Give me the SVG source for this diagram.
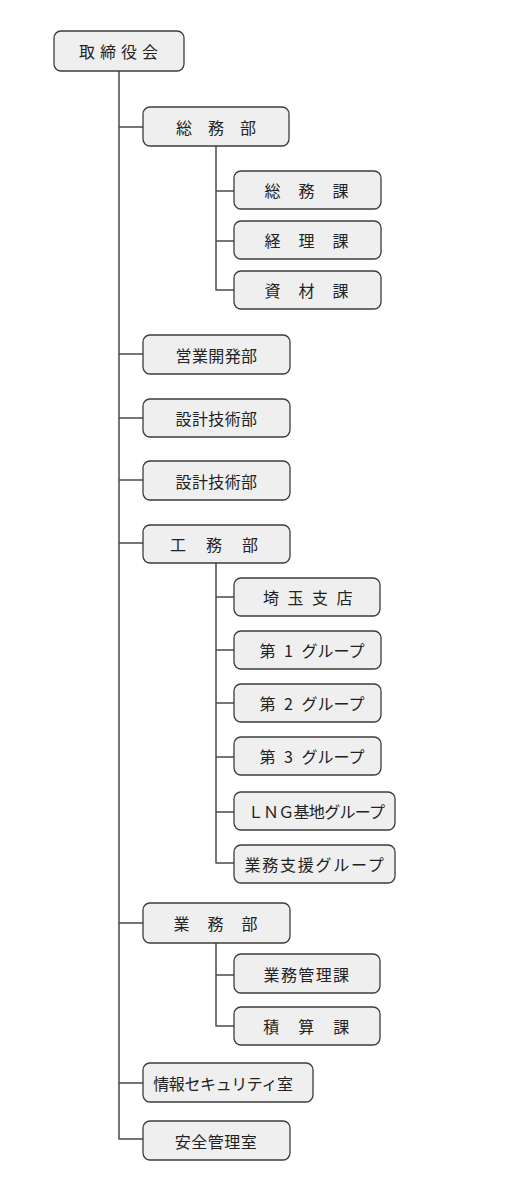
<svg xmlns="http://www.w3.org/2000/svg" width="527" height="1194" viewBox="0 0 527 1194">
<style>
.bx{fill:#efefef;stroke:#3c3c3c;stroke-width:1.3}
.t{font-family:"Noto Sans CJK JP","Noto Sans",sans-serif;font-size:16px;fill:#222;text-anchor:middle;dominant-baseline:central}
.ln{stroke:#4a4a4a;stroke-width:1.5;fill:none}
</style>
<rect width="527" height="1194" fill="#fff"/>
<g id="connectors">
<path class="ln" d="M119 71V1139.5M119 127H143M119 354H143M119 418H143M119 480H143M119 543H143M119 923H143M119 1083H143M119 1139H143"/>
<path class="ln" d="M216 146V290.5M216 191H234M216 241H234M216 290H234"/>
<path class="ln" d="M216 563V863.5M216 597H234M216 650H234M216 703H234M216 757H234M216 812H234M216 863H234"/>
<path class="ln" d="M216 943V1026.5M216 975H234M216 1026H234"/>
</g>
<g id="n-torishimariyakukai"><rect class="bx" x="54" y="31" width="130" height="40" rx="7"/><text class="t" x="121" y="51" letter-spacing="5">取締役会</text></g>
<g id="n-somubu"><rect class="bx" x="143" y="107" width="146" height="39" rx="7"/><text class="t" x="216" y="127">総　務　部</text></g>
<g id="n-somuka"><rect class="bx" x="234" y="171" width="147" height="38" rx="7"/><text class="t" x="307" y="190" letter-spacing="1">総　務　課</text></g>
<g id="n-keirika"><rect class="bx" x="234" y="221" width="147" height="38" rx="7"/><text class="t" x="307" y="240" letter-spacing="1">経　理　課</text></g>
<g id="n-shizaika"><rect class="bx" x="234" y="271" width="147" height="38" rx="7"/><text class="t" x="307" y="290" letter-spacing="1">資　材　課</text></g>
<g id="n-eigyo"><rect class="bx" x="143" y="335" width="147" height="39" rx="7"/><text class="t" x="216.5" y="354.5" letter-spacing="0.4">営業開発部</text></g>
<g id="n-sekkei1"><rect class="bx" x="143" y="399" width="147" height="38" rx="7"/><text class="t" x="216.5" y="418" letter-spacing="0.4">設計技術部</text></g>
<g id="n-sekkei2"><rect class="bx" x="143" y="461" width="147" height="39" rx="7"/><text class="t" x="216.5" y="480.5" letter-spacing="0.4">設計技術部</text></g>
<g id="n-komubu"><rect class="bx" x="143" y="525" width="147" height="38" rx="7"/><text class="t" x="215" y="544" letter-spacing="2">工　務　部</text></g>
<g id="n-saitama"><rect class="bx" x="234" y="578" width="146" height="38" rx="7"/><text class="t" x="312" y="597" letter-spacing="8.5">埼玉支店</text></g>
<g id="n-g1"><rect class="bx" x="234" y="631" width="147" height="38" rx="7"/><text class="t" x="312" y="650" word-spacing="5">第 1 グループ</text></g>
<g id="n-g2"><rect class="bx" x="234" y="684" width="147" height="38" rx="7"/><text class="t" x="312" y="703" word-spacing="5">第 2 グループ</text></g>
<g id="n-g3"><rect class="bx" x="234" y="737" width="147" height="38" rx="7"/><text class="t" x="312" y="756" word-spacing="5">第 3 グループ</text></g>
<g id="n-lng"><rect class="bx" x="234" y="792" width="161" height="38" rx="7"/><text class="t" x="316" y="811" letter-spacing="-0.7">ＬＮＧ基地グループ</text></g>
<g id="n-shien"><rect class="bx" x="234" y="845" width="161" height="38" rx="7"/><text class="t" x="315" y="864" letter-spacing="1.75">業務支援グループ</text></g>
<g id="n-gyomubu"><rect class="bx" x="143" y="903" width="147" height="40" rx="7"/><text class="t" x="216" y="923" letter-spacing="1">業　務　部</text></g>
<g id="n-kanri"><rect class="bx" x="234" y="954" width="146" height="39" rx="7"/><text class="t" x="307" y="973.5" letter-spacing="1.4">業務管理課</text></g>
<g id="n-sekisan"><rect class="bx" x="234" y="1007" width="146" height="38" rx="7"/><text class="t" x="307" y="1026" letter-spacing="1.5">積　算　課</text></g>
<g id="n-joho"><rect class="bx" x="143" y="1063" width="170" height="39" rx="7"/><text class="t" x="223" y="1082.5" letter-spacing="-0.4">情報セキュリティ室</text></g>
<g id="n-anzen"><rect class="bx" x="143" y="1121" width="147" height="39" rx="7"/><text class="t" x="216" y="1140.5" letter-spacing="0.5">安全管理室</text></g>
</svg>
